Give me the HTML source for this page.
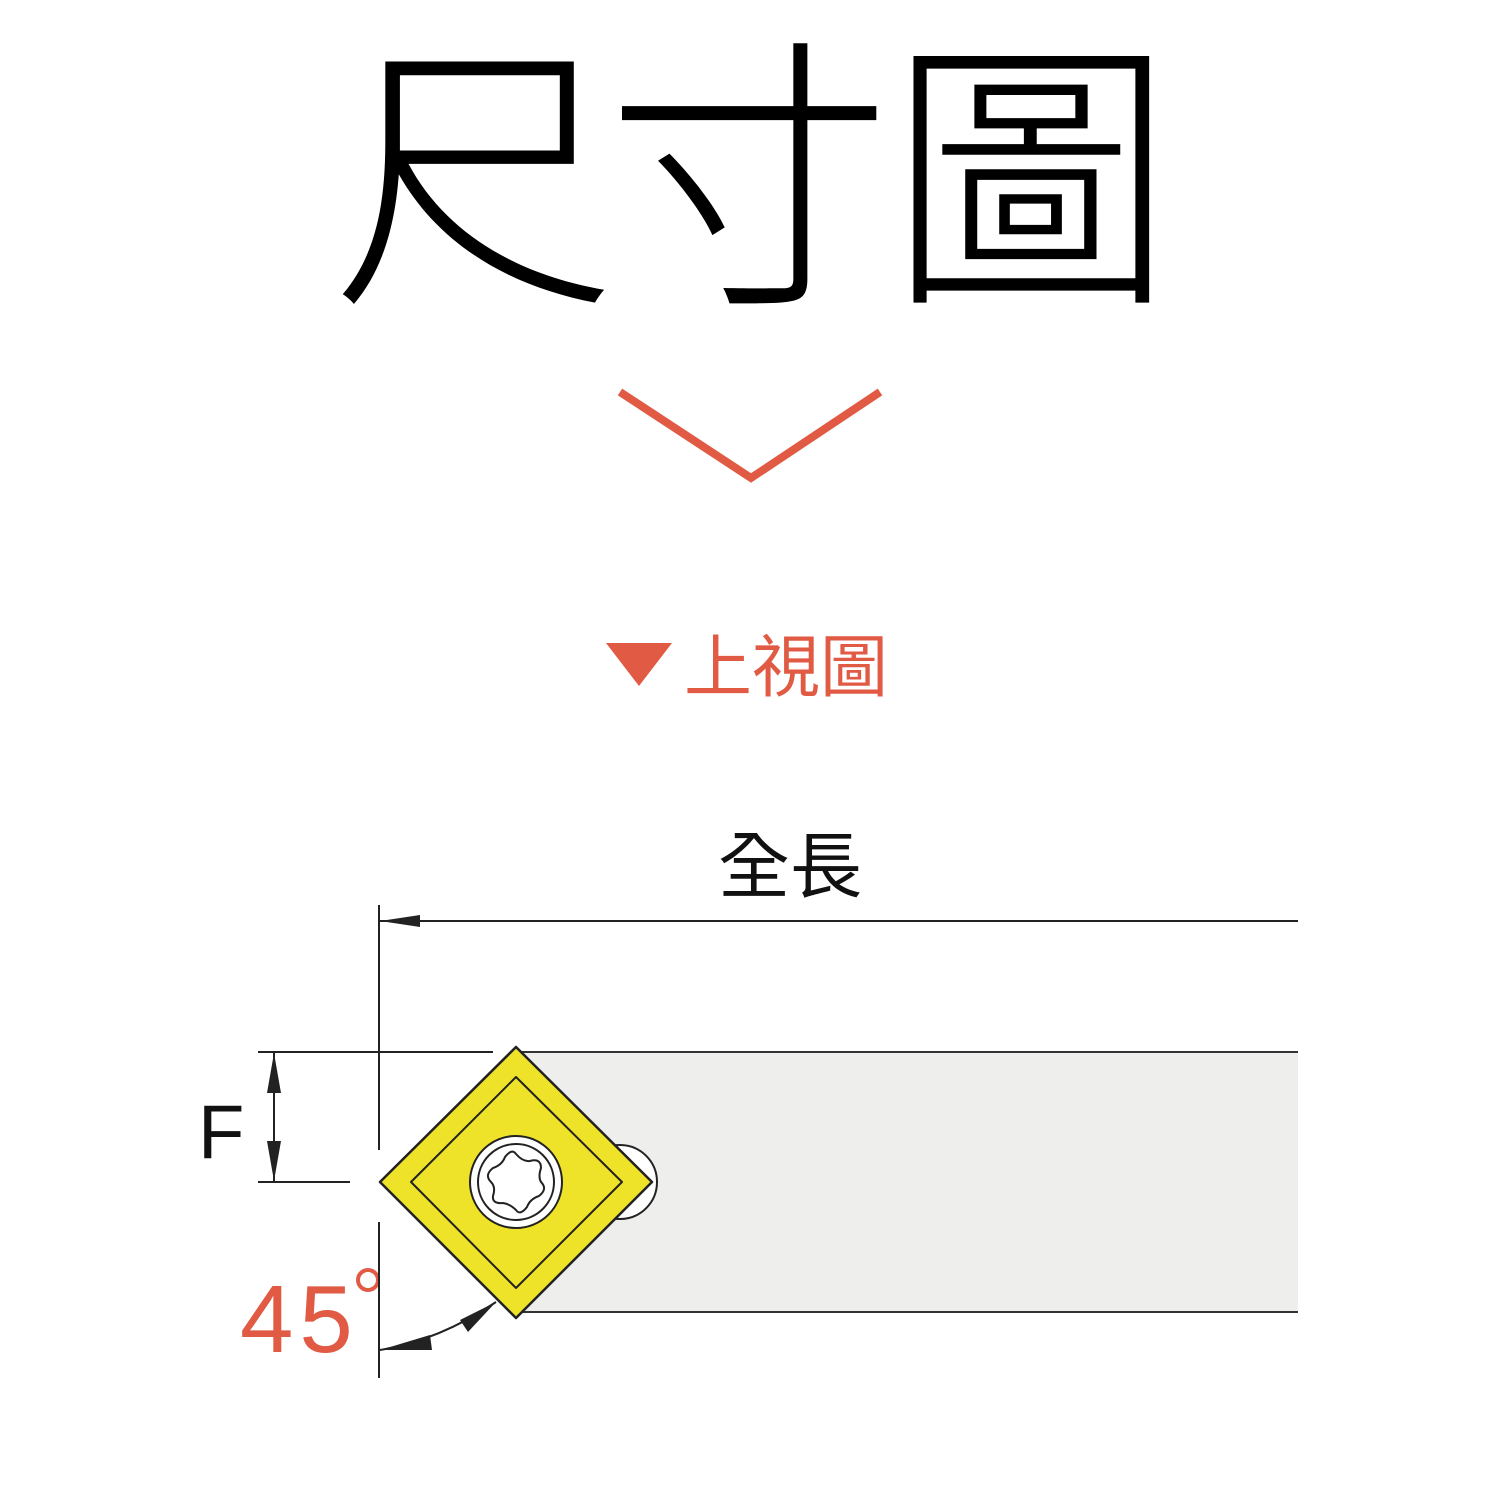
<!DOCTYPE html>
<html><head><meta charset="utf-8"><style>
html,body{margin:0;padding:0;background:#fff;}
body{width:1500px;height:1500px;position:relative;overflow:hidden;font-family:"Liberation Sans","Noto Sans CJK TC",sans-serif;}
.t{position:absolute;line-height:1;white-space:nowrap;font-family:"Liberation Sans","Noto Sans CJK TC",sans-serif;}
</style></head><body>
<div class="t" style="left:331px;top:40px;font-size:286px;font-weight:300;color:#000;">尺</div>
<div class="t" style="left:606px;top:40px;font-size:286px;font-weight:300;color:#000;">寸</div>
<div class="t" style="left:888px;top:40px;font-size:286px;font-weight:300;color:#000;">圖</div>
<div class="t" style="left:684px;top:634px;font-size:68px;color:#e05a44;">上視圖</div>
<div class="t" style="left:718px;top:832px;font-size:72px;color:#111;">全長</div>
<div class="t" style="left:198px;top:1095px;font-size:76px;color:#111;font-family:'Liberation Sans',sans-serif;">F</div>
<div class="t" style="left:240px;top:1272px;font-size:96px;color:#e05a44;font-family:'Liberation Sans',sans-serif;letter-spacing:6px;">45</div>
<svg width="1500" height="1500" style="position:absolute;left:0;top:0;">
<polyline points="620,392 751,478 880,392" fill="none" stroke="#e05a44" stroke-width="8"/>
<polygon points="606,643 672,643 639,686" fill="#e05a44"/>
<circle cx="368" cy="1280" r="10" fill="none" stroke="#e05a44" stroke-width="4"/>
<rect x="516" y="1052" width="782" height="260" fill="#eeeeec"/>
<line x1="516" y1="1052" x2="1298" y2="1052" stroke="#333" stroke-width="2"/>
<line x1="516" y1="1312" x2="1298" y2="1312" stroke="#333" stroke-width="2"/>
<circle cx="620" cy="1182" r="37" fill="#fff" stroke="#222" stroke-width="2"/>
<line x1="379" y1="905" x2="379" y2="1150" stroke="#222" stroke-width="2"/>
<line x1="379" y1="1222" x2="379" y2="1378" stroke="#222" stroke-width="2"/>
<line x1="379" y1="921" x2="1298" y2="921" stroke="#222" stroke-width="2"/>
<polygon points="380,921 420,915 420,927" fill="#222"/>
<line x1="258" y1="1052" x2="493" y2="1052" stroke="#222" stroke-width="2"/>
<line x1="258" y1="1182" x2="350" y2="1182" stroke="#222" stroke-width="2"/>
<line x1="274" y1="1052" x2="274" y2="1182" stroke="#222" stroke-width="2"/>
<polygon points="274,1053 267,1093 281,1093" fill="#222"/>
<polygon points="274,1181 267,1141 281,1141" fill="#222"/>
<path d="M380,1350 Q440,1340 496,1302" fill="none" stroke="#222" stroke-width="2"/>
<polygon points="380,1350 430,1335 432,1350" fill="#222"/>
<polygon points="496,1302 460,1320 468,1332" fill="#222"/>
<polygon points="380,1182 516,1047 652,1182 516,1318" fill="#efe32a" stroke="#222" stroke-width="2.5" stroke-linejoin="round"/>
<polygon points="411,1182 516,1077 622,1182 516,1288" fill="none" stroke="#222" stroke-width="2" stroke-linejoin="round"/>
<circle cx="516" cy="1182" r="46" fill="#fff" stroke="#222" stroke-width="2"/>
<circle cx="516" cy="1182" r="38" fill="none" stroke="#222" stroke-width="2"/>
<path d="M516,1154 Q523,1162 530,1161 Q541,1158 541,1168 Q538,1177 541,1182 Q548,1189 539,1196 Q530,1199 527,1207 Q520,1216 516,1210 Q510,1204 503,1203 Q492,1204 493,1196 Q496,1187 491,1182 Q484,1175 493,1168 Q502,1165 505,1157 Q512,1148 516,1154 Z" fill="#fff" stroke="#222" stroke-width="2" stroke-linejoin="round"/>
</svg>
</body></html>
